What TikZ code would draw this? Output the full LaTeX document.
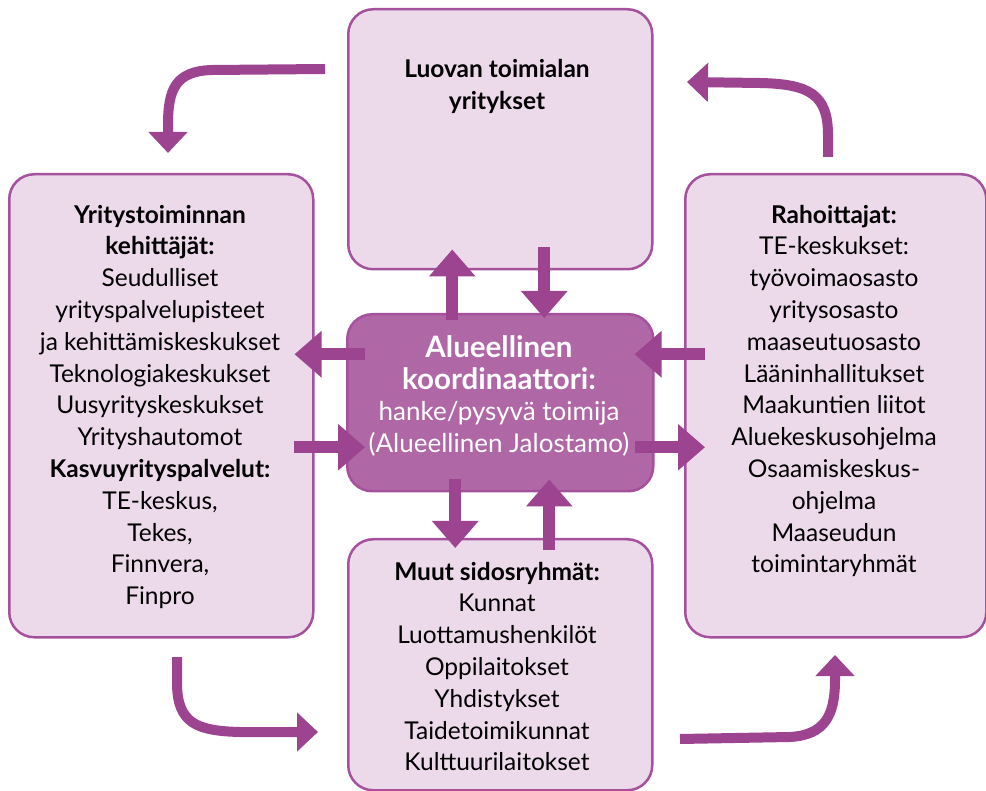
\documentclass[tikz,border=0pt]{standalone}
\usepackage{fontspec}
\setmainfont{Lato}
\usetikzlibrary{arrows.meta}

\definecolor{boxfill}{RGB}{236,218,234}
\definecolor{boxline}{RGB}{165,81,157}
\definecolor{hubfill}{RGB}{176,103,166}
\definecolor{arrowc}{RGB}{157,68,145}

\tikzset{
	box/.style={draw=boxline, fill=boxfill, line width=2.5pt, rounded corners=25pt, anchor=north west, inner sep=0pt},
	txt/.style={align=center, font=\fontsize{24.5}{31.8}\selectfont},
	fat/.style={draw=arrowc, line width=12pt, -{Triangle[width=45pt,length=27pt]}},
	curvy/.style={draw=arrowc, line width=10pt, -{Triangle[width=38pt,length=21pt]}}
}
\newcommand{\hubbold}[1]{{\fontsize{29.5}{31.5}\selectfont\bfseries #1}}

\begin{document}
\begin{tikzpicture}[x=1pt,y=-1pt]

	\useasboundingbox (0,0) rectangle (986,791);

	% boxes
	\node[box, minimum width=304pt, minimum height=260pt] (luova) at (347,8) {};
	\node[box, minimum width=304pt, minimum height=463pt] (kehitt) at (8,173) {};
	\node[box, minimum width=301pt, minimum height=463pt] (rahoit) at (684,173) {};
	\node[box, minimum width=304pt, minimum height=251pt] (sidos) at (347,538) {};
	\node[box, fill=hubfill, minimum width=306pt, minimum height=177pt] (koord) at (346,313) {};

	% texts
	\node[txt] (luovaT) at (497,86.5) {\textbf{Luovan toimialan}\\ \textbf{yritykset}};
	\node[txt] (kehittT) at (160,407) {\textbf{Yritystoiminnan}\\ \textbf{kehittäjät:}\\ Seudulliset\\ yrityspalvelupisteet\\ ja kehittämiskeskukset\\ Teknologiakeskukset\\ Uusyrityskeskukset\\ Yrityshautomot\\ \textbf{Kasvuyrityspalvelut:}\\ TE-keskus,\\ Tekes,\\ Finnvera,\\ Finpro};
	\node[txt] (rahoitT) at (834,391) {\textbf{Rahoittajat:}\\ TE-keskukset:\\ työvoimaosasto\\ yritysosasto\\ maaseutuosasto\\ Lääninhallitukset\\ Maakuntien liitot\\ Aluekeskusohjelma\\ Osaamiskeskus-\\ ohjelma\\ Maaseudun\\ toimintaryhmät};
	\node[txt] (sidosT) at (497,666.5) {\textbf{Muut sidosryhmät:}\\ Kunnat\\ Luottamushenkilöt\\ Oppilaitokset\\ Yhdistykset\\ Taidetoimikunnat\\ Kulttuurilaitokset};
	\node[txt, text=white, font=\fontsize{26}{31.5}\selectfont] (koordT) at (499,396) {\hubbold{Alueellinen}\\ \hubbold{koordinaattori:}\\ hanke/pysyvä toimija\\ (Alueellinen Jalostamo)};

	% arrows to and from the coordinator
	\draw[fat] ([xshift=-48pt,yshift=-7pt]koord.north) -- ([xshift=-48pt,yshift=21pt]luova.south);
	\draw[fat] ([xshift=44pt,yshift=23pt]luova.south) -- ([xshift=44pt,yshift=-5pt]koord.north);
	\draw[fat] ([xshift=19pt,yshift=48.5pt]koord.west) -- ([xshift=-20pt,yshift=51.5pt]kehitt.east);
	\draw[fat] ([xshift=-21pt,yshift=-41.5pt]kehitt.east) -- ([xshift=19pt,yshift=-44.5pt]koord.west);
	\draw[fat] ([xshift=21pt,yshift=51.5pt]rahoit.west) -- ([xshift=-20pt,yshift=48.5pt]koord.east);
	\draw[fat] ([xshift=-20pt,yshift=-44.5pt]koord.east) -- ([xshift=21pt,yshift=-41.5pt]rahoit.west);
	\draw[fat] ([xshift=-45pt,yshift=13pt]koord.south) -- ([xshift=-45pt,yshift=-10pt]sidos.north);
	\draw[fat] ([xshift=49pt,yshift=-12pt]sidos.north) -- ([xshift=49pt,yshift=13pt]koord.south);

	% circle round the boxes
	\coordinate (tlA) at (325,69);
	\coordinate (tlB) at (168,153);
	\coordinate (trA) at (828,157);
	\coordinate (trB) at (687,82);
	\coordinate (blA) at (177,657);
	\coordinate (blB) at (318,732);
	\coordinate (brA) at (680,739);
	\coordinate (brB) at (835,655);

	\draw[curvy] (tlA) -- (212,70) .. controls (175,71) and (168,90) .. (168,125) -- (tlB);
	\draw[curvy] (trA) -- (828,135) .. controls (828,95) and (810,84) .. (760,83) -- (trB);
	\draw[curvy] (blA) -- (177,685) .. controls (178,722) and (195,731) .. (240,732) -- (blB);
	\draw[curvy] (brA) -- (790,737) .. controls (825,735) and (835,715) .. (835,680) -- (brB);

\end{tikzpicture}
\end{document}
